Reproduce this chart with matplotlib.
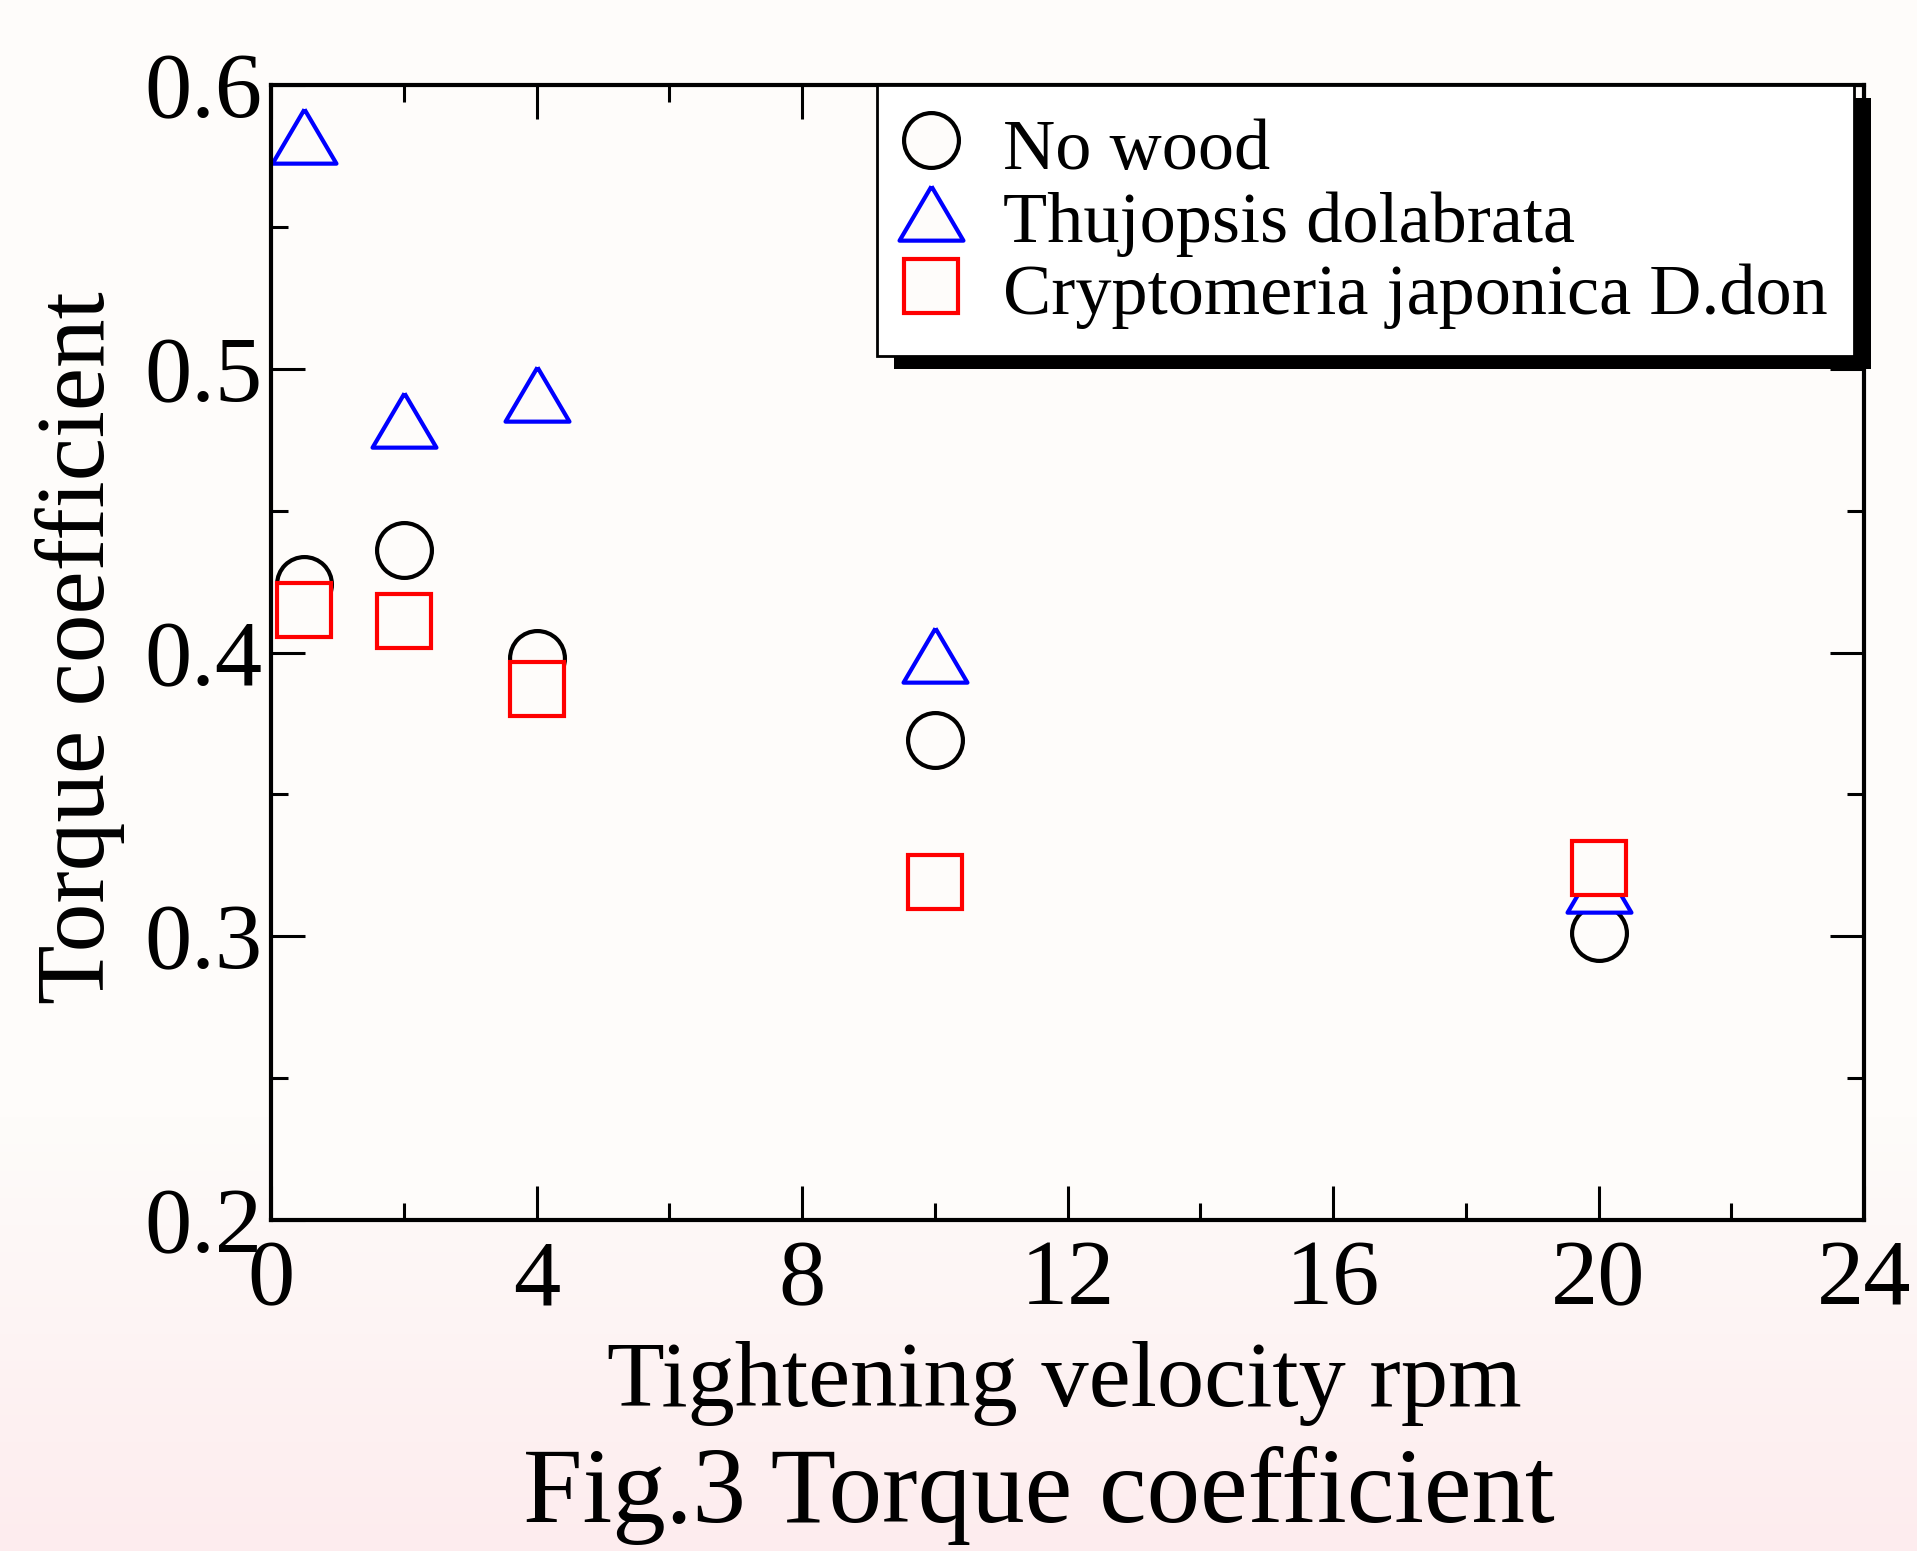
import matplotlib.pyplot as plt
import numpy as np
from matplotlib import patheffects
from matplotlib.ticker import MultipleLocator, FormatStrFormatter

plt.rcParams['font.family'] = ['Liberation Serif', 'DejaVu Serif']

velocity = [0.5, 2, 4, 10, 20]
no_wood = [0.424, 0.436, 0.398, 0.369, 0.301]
thujopsis = [0.582, 0.482, 0.491, 0.399, 0.318]
cryptomeria = [0.415, 0.411, 0.387, 0.319, 0.324]

labels = ['No wood', 'Thujopsis dolabrata', 'Cryptomeria japonica D.don']

bg = '#fefcfa'
fig = plt.figure(figsize=(19.17, 15.51), dpi=100)
fig.patch.set_facecolor(bg)

# pinkish fade at the bottom of the page
bgax = fig.add_axes([0, 0, 1, 1], zorder=-10)
top_c = np.array([254, 252, 250]) / 255
bot_c = np.array([253, 236, 238]) / 255
t = np.clip((np.linspace(0, 1, 400) - 0.72) / 0.28, 0, 1)[:, None]
grad = (top_c * (1 - t) + bot_c * t)[:, None, :]
bgax.imshow(grad, aspect='auto', extent=[0, 1, 0, 1])
bgax.axis('off')

ax = fig.add_axes([0.1414, 0.2134, 0.831, 0.7318])
ax.set_facecolor(bg)

tri = [(0, 0.85), (-1, -0.85), (1, -0.85), (0, 0.85)]
ax.plot(velocity, no_wood, linestyle='none', marker='o', ms=39.5, mec='black',
        mfc=bg, mew=3, label=labels[0], clip_on=False)
ax.plot(velocity, thujopsis, linestyle='none', marker=tri, ms=46, mec='blue',
        mfc=bg, mew=3, label=labels[1], clip_on=False)
ax.plot(velocity, cryptomeria, linestyle='none', marker='s', ms=39.5, mec='red',
        mfc=bg, mew=3, label=labels[2], clip_on=False)

ax.set_xlim(0, 24)
ax.set_ylim(0.2, 0.6)
ax.xaxis.set_major_locator(MultipleLocator(4))
ax.xaxis.set_minor_locator(MultipleLocator(2))
ax.yaxis.set_major_locator(MultipleLocator(0.1))
ax.yaxis.set_minor_locator(MultipleLocator(0.05))
ax.yaxis.set_major_formatter(FormatStrFormatter('%.1f'))

ax.tick_params(which='both', direction='in', top=True, right=True, width=2.2, labelsize=68)
ax.tick_params(which='major', length=24.5)
ax.tick_params(which='minor', length=12)
ax.tick_params(axis='x', pad=14)
ax.tick_params(axis='y', pad=6)
for s in ax.spines.values():
    s.set_linewidth(3)

ax.set_xlabel('Tightening velocity rpm', fontsize=68)
ax.xaxis.set_label_coords(0.498, -0.164)
ax.xaxis.label.set_va('baseline')
ax.set_ylabel('Torque coefficient', fontsize=70)
ax.yaxis.set_label_coords(-0.105, 0.504)
ax.yaxis.label.set_va('baseline')

leg = ax.legend(loc='upper left', bbox_to_anchor=(0.3804, 1.0), borderaxespad=0,
                fontsize=52, handlelength=0.75, handleheight=1.0, handletextpad=0.62,
                borderpad=0.37, labelspacing=0.01, fancybox=False, framealpha=1,
                edgecolor='black', facecolor='white')
leg.get_frame().set_linewidth(2)
leg.get_frame().set_path_effects([
    patheffects.SimplePatchShadow(offset=(12, -9.5), shadow_rgbFace='black', alpha=1.0),
    patheffects.Normal()])

fig.text(0.542, 0.0187, 'Fig.3 Torque coefficient', fontsize=77, ha='center', va='baseline')

plt.savefig('out.png', dpi=100, facecolor=fig.get_facecolor())
